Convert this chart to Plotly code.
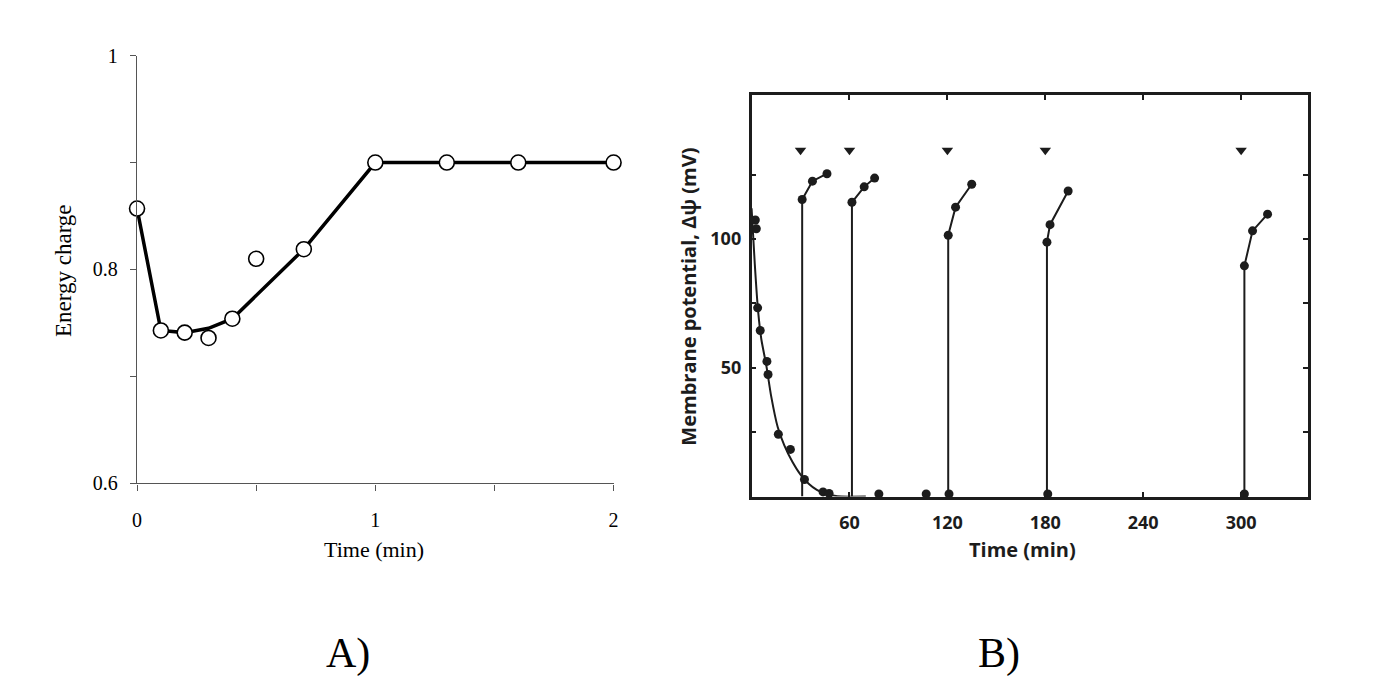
import plotly.graph_objects as go

W, H = 1387, 691

# ---------- Panel A data ----------
a_time = [0, 0.1, 0.2, 0.3, 0.4, 0.5, 0.7, 1.0, 1.3, 1.6, 2.0]
a_charge = [0.857, 0.743, 0.741, 0.736, 0.754, 0.810, 0.819, 0.900, 0.900, 0.900, 0.900]
a_fit_time = [0, 0.1, 0.2, 0.3, 0.4, 0.7, 1.0, 1.3, 1.6, 2.0]
a_fit_charge = [0.857, 0.743, 0.741, 0.745, 0.754, 0.819, 0.900, 0.900, 0.900, 0.900]
a_yticks = [0.6, 0.7, 0.8, 0.9, 1.0]
a_yticklabels = ["0.6", "", "0.8", "", "1"]
a_xticks = [0, 0.5, 1, 1.5, 2]
a_xticklabels = ["0", "", "1", "", "2"]

# ---------- Panel B data ----------
b_decay_curve_t = [0, 2, 4, 6, 9, 12, 16, 20, 25, 30, 35, 40, 45, 50, 55, 70]
b_decay_curve_v = [112, 90, 72, 61, 51, 39, 27, 20, 13.5, 8.5, 5, 2.6, 1.2, 0.4, 0, 0]
b_decay_pts_t = [2.3, 2.9, 3.7, 5.3, 9.4, 10.1, 16.4, 23.8, 32.4, 43.8, 47.5]
b_decay_pts_v = [107.4, 104, 73.3, 64.5, 52.5, 47.4, 24.2, 18.3, 6.6, 1.8, 1.2]
b_base_pts_t = [78, 107, 121, 181.5, 302]
b_base_pts_v = [1, 1, 1, 1, 1]
b_arrow_t = [30, 60, 120, 180, 300]
b_arrow_v = [134.5, 134.5, 134.5, 134.5, 134.5]
b_rec_t = [
    [31, 37.3, 46.2],
    [61.5, 69, 75.4],
    [120.5, 125, 134.9],
    [181, 182.9, 194],
    [302, 307, 316.2],
]
b_rec_v = [
    [115.4, 122.5, 125.4],
    [114.3, 120.3, 123.7],
    [101.5, 112.4, 121.3],
    [98.8, 105.6, 118.7],
    [89.6, 103.2, 109.7],
]
b_xticks = [60, 120, 180, 240, 300]
b_xticklabels = ["60", "120", "180", "240", "300"]
b_yticks = [25, 50, 75, 100, 125]
b_yticklabels = ["", "50", "", "100", ""]


def px_x(p):
    return p / W


def px_y(p):
    return 1 - p / H


fig = go.Figure()

# Panel A
fig.add_trace(go.Scatter(x=a_fit_time, y=a_fit_charge, mode="lines",
                         line=dict(color="black", width=3.5),
                         xaxis="x", yaxis="y", hoverinfo="skip",
                         cliponaxis=False))
fig.add_trace(go.Scatter(x=a_time, y=a_charge, mode="markers",
                         marker=dict(symbol="circle", size=15, color="white",
                                     line=dict(color="black", width=1.6)),
                         xaxis="x", yaxis="y", cliponaxis=False))

# Panel B
dark = "#1c1c1c"
fig.add_trace(go.Scatter(x=b_decay_curve_t, y=b_decay_curve_v, mode="lines",
                         line=dict(color=dark, width=2, shape="spline", smoothing=0.6),
                         xaxis="x2", yaxis="y2", cliponaxis=False))
fig.add_trace(go.Scatter(x=b_decay_pts_t, y=b_decay_pts_v, mode="markers",
                         marker=dict(size=9, color=dark),
                         xaxis="x2", yaxis="y2", cliponaxis=False))
fig.add_trace(go.Scatter(x=b_base_pts_t, y=b_base_pts_v, mode="markers",
                         marker=dict(size=9, color=dark),
                         xaxis="x2", yaxis="y2", cliponaxis=False))
for ts, vs in zip(b_rec_t, b_rec_v):
    fig.add_trace(go.Scatter(x=[ts[0]] + ts, y=[0] + vs, mode="lines",
                             line=dict(color=dark, width=2),
                             xaxis="x2", yaxis="y2", cliponaxis=False))
    fig.add_trace(go.Scatter(x=ts, y=vs, mode="markers",
                             marker=dict(size=9, color=dark),
                             xaxis="x2", yaxis="y2", cliponaxis=False))
fig.add_trace(go.Scatter(x=b_arrow_t, y=b_arrow_v, mode="markers",
                         marker=dict(symbol="triangle-down", size=10, color=dark),
                         xaxis="x2", yaxis="y2"))

serif = "Liberation Serif"
sans = "Open Sans"
gray = "#555555"

fig.update_layout(
    width=W, height=H,
    margin=dict(l=0, r=0, t=0, b=0),
    paper_bgcolor="white", plot_bgcolor="white",
    showlegend=False,
    xaxis=dict(domain=[px_x(133), px_x(613)], range=[0, 2], anchor="y",
               showline=True, linecolor=gray, linewidth=1.4,
               ticks="outside", ticklen=6, tickcolor=gray, tickwidth=1.2,
               tickvals=a_xticks, ticktext=a_xticklabels,
               ticklabelstandoff=12,
               tickfont=dict(family=serif, size=20, color="black"),
               showgrid=False, zeroline=False, fixedrange=True),
    yaxis=dict(domain=[px_y(488), px_y(46)], range=[0.6, 1.0], anchor="x",
               showline=True, linecolor=gray, linewidth=1.4,
               ticks="outside", ticklen=6, tickcolor=gray, tickwidth=1.2,
               tickvals=a_yticks, ticktext=a_yticklabels,
               ticklabelstandoff=8,
               tickfont=dict(family=serif, size=20, color="black"),
               showgrid=False, zeroline=False, fixedrange=True),
    xaxis2=dict(domain=[px_x(752), px_x(1312)], range=[0, 340.7], anchor="y2",
                showline=True, linecolor=dark, linewidth=2.5, mirror="ticks",
                ticks="inside", ticklen=5, tickcolor=dark, tickwidth=1.5,
                tickvals=b_xticks, ticktext=b_xticklabels,
                ticklabelstandoff=8,
                tickfont=dict(family=sans, size=18, color=dark, weight="bold"),
                showgrid=False, zeroline=False, fixedrange=True),
    yaxis2=dict(domain=[px_y(501.5), px_y(86.7)], range=[0, 156], anchor="x2",
                showline=True, linecolor=dark, linewidth=2.5, mirror="ticks",
                ticks="inside", ticklen=5, tickcolor=dark, tickwidth=1.5,
                tickvals=b_yticks, ticktext=b_yticklabels,
                ticklabelstandoff=4,
                tickfont=dict(family=sans, size=18, color=dark, weight="bold"),
                showgrid=False, zeroline=False, fixedrange=True),
)

annotations = [
    dict(text="Time (min)", x=px_x(372), y=px_y(556), font=dict(family=serif, size=22, color="black")),
    dict(text="Energy charge", x=px_x(59), y=px_y(268), textangle=-90,
         font=dict(family=serif, size=23, color="black")),
    dict(text="Time (min)", x=px_x(1025), y=px_y(556),
         font=dict(family=sans, size=20, color=dark, weight="bold")),
    dict(text="Membrane potential, Δψ (mV)", x=px_x(689), y=px_y(295), textangle=-90,
         font=dict(family=sans, size=20, color=dark, weight="bold")),
    dict(text="A)", x=px_x(345), y=px_y(664), font=dict(family=serif, size=42, color="black")),
    dict(text="B)", x=px_x(1001), y=px_y(664), font=dict(family=serif, size=42, color="black")),
]
for a in annotations:
    a.update(xref="paper", yref="paper", showarrow=False, xanchor="center", yanchor="middle")
fig.update_layout(annotations=annotations)

fig.write_html("out.html")
